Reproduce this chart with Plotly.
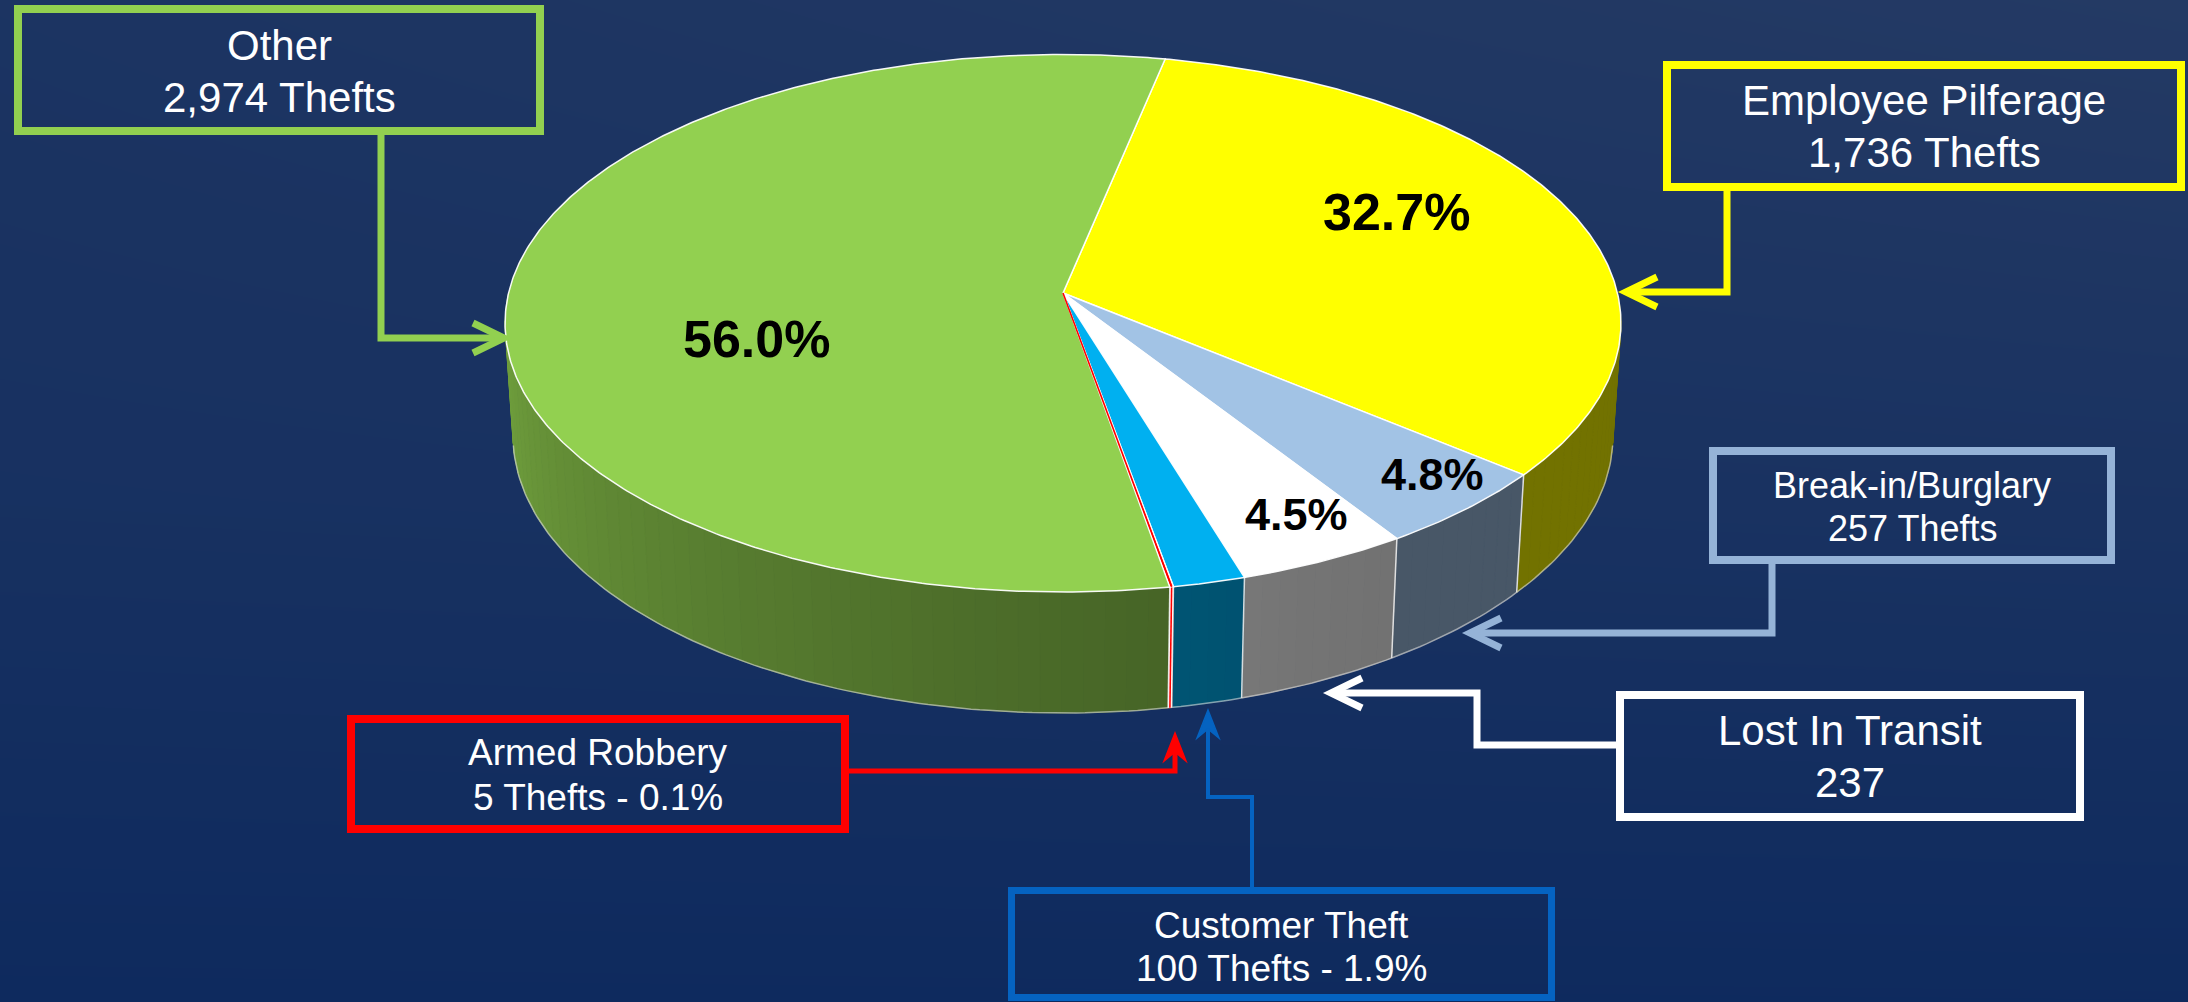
import math
import numpy as np
import plotly.graph_objects as go

# ---------------- data ----------------
categories = ["Employee Pilferage", "Break-in/Burglary", "Lost In Transit",
              "Customer Theft", "Armed Robbery", "Other"]
thefts = [1736, 257, 237, 100, 5, 2974]
top_colors = ["#FFFF00", "#A2C3E5", "#FFFFFF", "#00B0F0", "#FF0000", "#92D050"]
callout_colors = ["#FFFF00", "#95B3D7", "#FFFFFF", "#0563C1", "#FF0000", "#92D050"]
second_line_fmt = ["{n:,} Thefts", "{n:,} Thefts", "{n:,}",
                   "{n:,} Thefts - {p:.1f}%", "{n:,} Thefts - {p:.1f}%", "{n:,} Thefts"]
show_pct = [True, True, True, False, False, True]

# ---------------- geometry / style ----------------
W, H_PX = 2188, 1002
CX, CY = 1063, 293          # projected centre of the pie
FOC = 4330.0
DIST = 7.81
TILT = math.radians(28.6)
DEPTH = 0.233
START = 11.8                 # degrees clockwise from back
FONT = "Liberation Sans, Arial, sans-serif"

sa, ca = math.sin(TILT), math.cos(TILT)


def proj(theta, r=1.0, yv=0.0):
    t = math.radians(theta)
    X = r * math.sin(t)
    Z = -r * math.cos(t)
    up = yv * ca - Z * sa
    dep = yv * sa + Z * ca
    k = FOC / (DIST - dep)
    return CX + k * X, CY - k * up


def shade(hexcol, f):
    h = hexcol.lstrip("#")
    r, g, b = (int(h[i:i + 2], 16) for i in (0, 2, 4))
    return "rgb(%d,%d,%d)" % (r * f, g * f, b * f)


def side_factor(theta):
    v = max(0.0, (theta - 150.0) / 120.0)
    return 0.45 + 0.35 * v ** 1.3


total = float(sum(thefts))
pcts = [v / total * 100 for v in thefts]
edges = [START]
for v in thefts:
    edges.append(edges[-1] + 360.0 * v / total)

fig = go.Figure()

# background gradient
fig.add_trace(go.Heatmap(
    x=[0, W], y=[0, 500, H_PX],
    z=[[0.62, 1.0], [0.42, 0.52], [0.0, 0.02]],
    colorscale=[[0, "#0e2a5e"], [1, "#243a64"]],
    zsmooth="best", showscale=False, hoverinfo="skip"))

# ---- side of the pie (strips sorted back-to-front) ----
strips = []
for i, col in enumerate(top_colors):
    a0, a1 = edges[i], edges[i + 1]
    lo, hi = max(a0, 90.0), min(a1, 270.0)
    if hi <= lo:
        continue
    n = max(1, int(math.ceil((hi - lo) / 2.0)))
    for j in range(n):
        t1 = lo + (hi - lo) * j / n
        t2 = lo + (hi - lo) * (j + 1) / n
        strips.append((t1, t2, col))
strips.sort(key=lambda s: math.cos(math.radians((s[0] + s[1]) / 2)), reverse=True)
for t1, t2, col in strips:
    m = (t1 + t2) / 2
    c = shade(col, side_factor(m))
    ts = np.linspace(t1, t2, 4)
    top = [proj(t) for t in ts]
    bot = [proj(t, yv=-DEPTH) for t in ts[::-1]]
    pts = top + bot + [top[0]]
    fig.add_trace(go.Scatter(x=[p[0] for p in pts], y=[p[1] for p in pts],
                             mode="lines", fill="toself", fillcolor=c,
                             line=dict(color=c, width=1), hoverinfo="skip"))

# side boundary lines
vis_lo, vis_hi = 98.4, 261.6
for b in edges[1:-1]:
    if vis_lo < b < vis_hi:
        p1, p2 = proj(b), proj(b, yv=-DEPTH)
        fig.add_trace(go.Scatter(x=[p1[0], p2[0]], y=[p1[1], p2[1]], mode="lines",
                                 line=dict(color="rgba(235,235,235,0.9)", width=1.5),
                                 hoverinfo="skip"))
# bottom rim line
ts = np.linspace(vis_lo, vis_hi, 200)
bp = [proj(t, yv=-DEPTH) for t in ts]
fig.add_trace(go.Scatter(x=[p[0] for p in bp], y=[p[1] for p in bp], mode="lines",
                         line=dict(color="rgba(220,220,220,0.6)", width=1.5),
                         hoverinfo="skip"))

# tiny slices on the side: coloured line
for i, v in enumerate(thefts):
    if pcts[i] < 0.5:
        m = (edges[i] + edges[i + 1]) / 2
        p1, p2 = proj(m), proj(m, yv=-DEPTH)
        fig.add_trace(go.Scatter(x=[p1[0], p2[0]], y=[p1[1], p2[1]], mode="lines",
                                 line=dict(color="white", width=3.5), hoverinfo="skip"))
        fig.add_trace(go.Scatter(x=[p1[0], p2[0]], y=[p1[1], p2[1]], mode="lines",
                                 line=dict(color=top_colors[i], width=1.6), hoverinfo="skip"))

# ---- top face ----
for i, col in enumerate(top_colors):
    a0, a1 = edges[i], edges[i + 1]
    n = max(2, int(math.ceil((a1 - a0) / 0.5)))
    ts = np.linspace(a0, a1, n + 1)
    pts = [(CX, CY)] + [proj(t) for t in ts] + [(CX, CY)]
    fig.add_trace(go.Scatter(x=[p[0] for p in pts], y=[p[1] for p in pts],
                             mode="lines", fill="toself", fillcolor=col,
                             line=dict(color="rgba(255,255,255,0.95)", width=1.5),
                             hoverinfo="skip"))
for i, v in enumerate(thefts):
    if pcts[i] < 0.5:
        m = (edges[i] + edges[i + 1]) / 2
        p = proj(m)
        fig.add_trace(go.Scatter(x=[CX, p[0]], y=[CY, p[1]], mode="lines",
                                 line=dict(color=top_colors[i], width=1.6), hoverinfo="skip"))

# ---- percentage labels on the pie ----
label_polar = {"Employee Pilferage": (63.0, 0.70), "Break-in/Burglary": (135.8, 0.888),
               "Lost In Transit": (153.2, 0.854), "Other": (252.5, 0.569)}
label_size = {"Employee Pilferage": 52, "Break-in/Burglary": 45,
              "Lost In Transit": 45, "Other": 52}
annotations = []
for i, cat in enumerate(categories):
    if not show_pct[i]:
        continue
    th, r = label_polar[cat]
    x, y = proj(th, r)
    annotations.append(dict(x=x, y=y, xref="x", yref="y", showarrow=False,
                            text="%.1f%%" % pcts[i], xanchor="center", yanchor="middle",
                            font=dict(family=FONT, size=label_size[cat], color="black",
                                      weight="bold")))

# ---- callouts ----
callouts = {
    "Other": dict(box=(14, 5, 544, 135), bw=8, ly=(45, 97), size=42, lw=7,
                  path=[(381, 135), (381, 338), (502, 338)], tip=(504, 338), d="right"),
    "Employee Pilferage": dict(box=(1663, 61, 2185, 191), bw=8, ly=(100, 152), size=42, lw=7,
                               path=[(1727, 191), (1727, 292), (1628, 292)], tip=(1626, 292), d="left"),
    "Break-in/Burglary": dict(box=(1709, 447, 2115, 564), bw=8, ly=(485, 528), size=36, lw=7,
                              path=[(1772, 564), (1772, 633), (1472, 633)], tip=(1470, 633), d="left"),
    "Lost In Transit": dict(box=(1616, 691, 2084, 821), bw=8, ly=(730, 782), size=42, lw=7,
                            path=[(1616, 745), (1477, 745), (1477, 693), (1333, 693)], tip=(1331, 693), d="left"),
    "Armed Robbery": dict(box=(347, 715, 849, 833), bw=8, ly=(752, 797), size=37, lw=5,
                          path=[(849, 771), (1175, 771), (1175, 745)], tip=(1175, 733), d="up"),
    "Customer Theft": dict(box=(1008, 887, 1555, 1001), bw=7, ly=(925, 968), size=37, lw=4,
                           path=[(1252, 887), (1252, 797), (1208, 797), (1208, 722)], tip=(1208, 710), d="up"),
}

shapes = []
for i, cat in enumerate(categories):
    c = callouts[cat]
    col = callout_colors[i]
    x0, y0, x1, y1 = c["box"]
    hw = c["bw"] / 2.0
    shapes.append(dict(type="rect", xref="x", yref="y", x0=x0 + hw, y0=y0 + hw,
                       x1=x1 - hw, y1=y1 - hw, line=dict(color=col, width=c["bw"]),
                       fillcolor="rgba(0,0,0,0)"))
    pth = "M " + " L ".join("%g,%g" % p for p in c["path"])
    shapes.append(dict(type="path", xref="x", yref="y", path=pth,
                       line=dict(color=col, width=c["lw"])))
    tx, ty = c["tip"]
    if c["d"] == "up":
        head = [(tx, ty), (tx + 11, ty + 28), (tx, ty + 19), (tx - 11, ty + 28)]
        shapes.append(dict(type="path", xref="x", yref="y",
                           path="M " + " L ".join("%g,%g" % p for p in head) + " Z",
                           fillcolor=col, line=dict(color=col, width=1.5)))
    else:
        if c["d"] == "right":
            arms = [(tx - 31, ty - 15), (tx, ty), (tx - 31, ty + 15)]
        else:
            arms = [(tx + 31, ty - 15), (tx, ty), (tx + 31, ty + 15)]
        shapes.append(dict(type="path", xref="x", yref="y",
                           path="M " + " L ".join("%g,%g" % p for p in arms),
                           line=dict(color=col, width=c["lw"])))
    xc = (x0 + x1) / 2.0
    line2 = second_line_fmt[i].format(n=thefts[i], p=pcts[i])
    for txt, yy in ((cat, c["ly"][0]), (line2, c["ly"][1])):
        annotations.append(dict(x=xc, y=yy, xref="x", yref="y", showarrow=False,
                                text=txt, xanchor="center", yanchor="middle",
                                font=dict(family=FONT, size=c["size"], color="white")))

fig.update_layout(
    width=W, height=H_PX, margin=dict(l=0, r=0, t=0, b=0, pad=0),
    paper_bgcolor="#152d5e", plot_bgcolor="rgba(0,0,0,0)",
    showlegend=False,
    xaxis=dict(range=[0, W], visible=False, fixedrange=True),
    yaxis=dict(range=[H_PX, 0], visible=False, fixedrange=True),
    shapes=shapes, annotations=annotations,
)

fig.write_html("out.html", config={"displayModeBar": False},
               post_script="document.body.style.margin='0px';document.body.style.overflow='hidden';")
